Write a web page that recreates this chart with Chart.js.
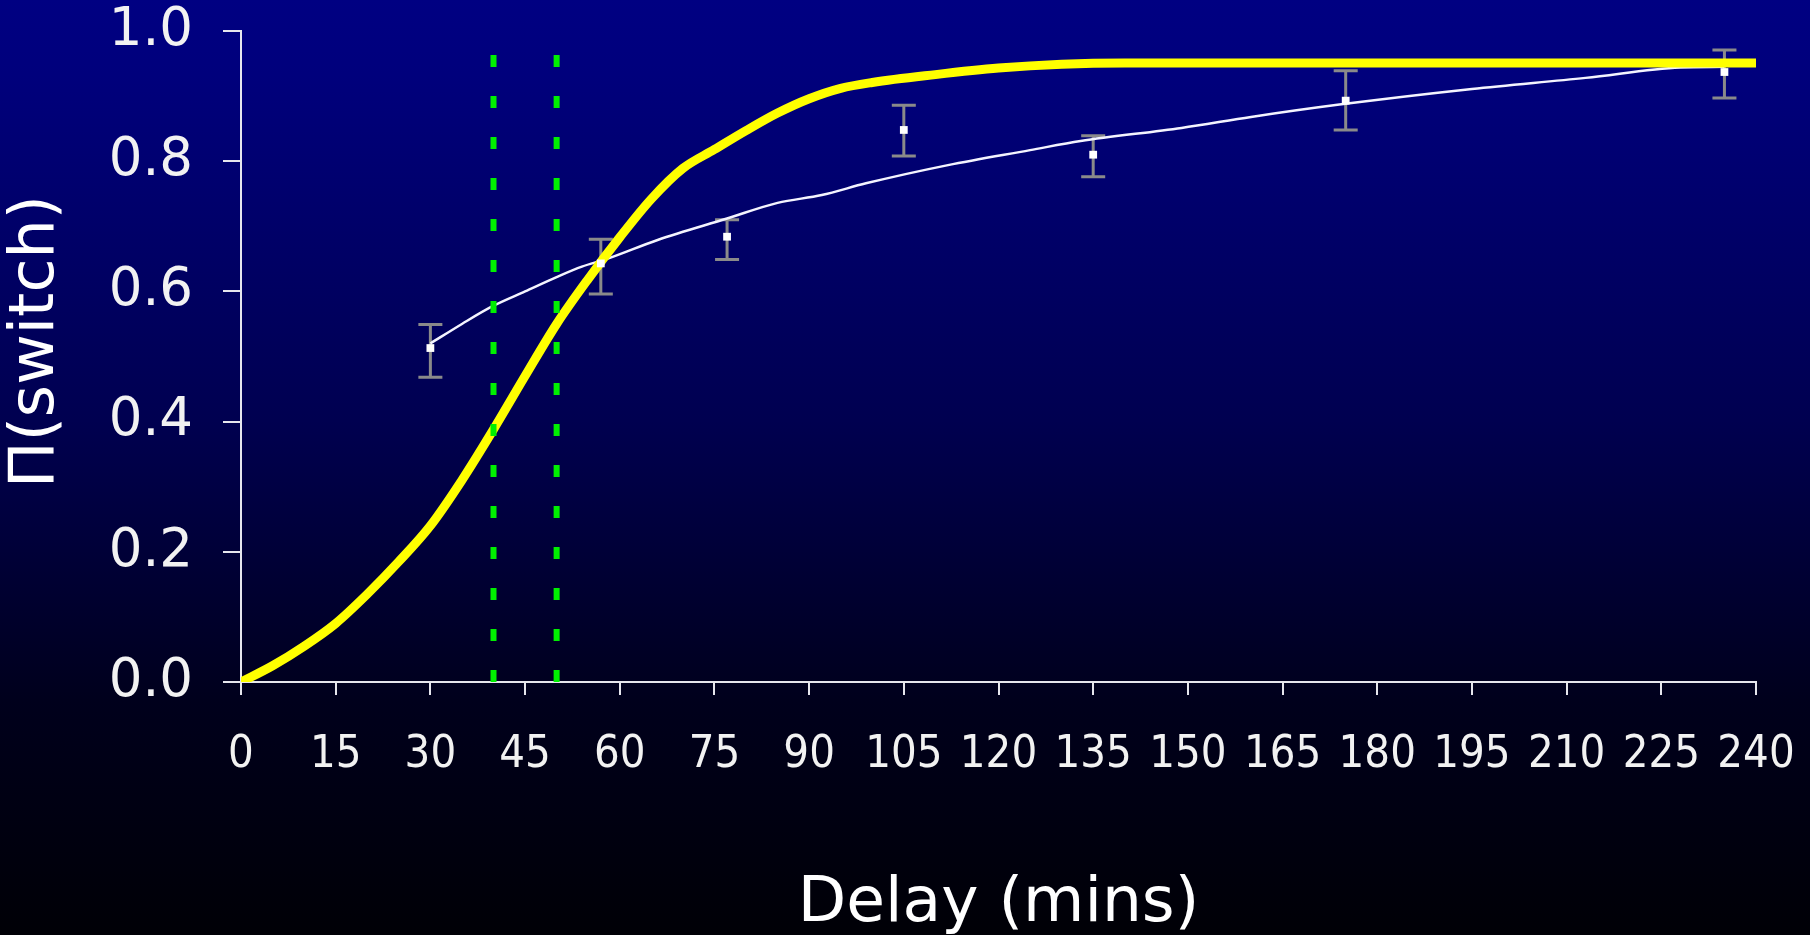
<!DOCTYPE html>
<html>
<head>
<meta charset="utf-8">
<script src="https://cdn.jsdelivr.net/npm/chart.js@4.4.0/dist/chart.umd.min.js"></script>
<style>
  html, body { margin: 0; padding: 0; width: 1810px; height: 935px; overflow: hidden; }
  body { background: linear-gradient(to bottom, #000082 0%, #00007c 8%, #000050 45%, #00001c 75%, #000006 100%); }
  #wrap { position: absolute; left: 0; top: 0; width: 1810px; height: 935px; }
</style>
</head>
<body>
<div id="wrap"><canvas id="c" width="1810" height="935"></canvas></div>
<script>
// ---- Data ----
// Model curve (yellow)
const modelDelay = [0, 5, 10, 15, 20, 25, 30, 35, 40, 45, 50, 55, 60, 65, 70, 75, 80, 85, 90, 95, 100, 110, 120, 130, 140, 240];
const modelProb  = [0, 0.025, 0.055, 0.09, 0.135, 0.185, 0.24, 0.31, 0.388, 0.47, 0.55, 0.619, 0.683, 0.742, 0.789, 0.818, 0.847, 0.874, 0.896, 0.912, 0.921, 0.933, 0.943, 0.949, 0.951, 0.951];

// Fitted curve through the data (white)
const fitDelay = [30, 35, 40, 45, 50, 54, 58, 66, 77, 85, 92, 99, 112, 125, 133, 149, 160, 174, 195, 213, 228, 235];
const fitProb  = [0.52, 0.55, 0.578, 0.6, 0.622, 0.638, 0.65, 0.679, 0.712, 0.736, 0.748, 0.766, 0.794, 0.817, 0.831, 0.851, 0.868, 0.887, 0.911, 0.928, 0.944, 0.945];

// Observed points with error bars
const obsDelay = [30, 57, 77, 105, 135, 175, 235];
const obsProb  = [0.513, 0.643, 0.684, 0.848, 0.81, 0.893, 0.937];
const obsHigh  = [0.549, 0.68, 0.71, 0.886, 0.839, 0.939, 0.971];
const obsLow   = [0.468, 0.596, 0.649, 0.808, 0.776, 0.848, 0.897];

// Vertical green markers
const markerDelays = [40, 50];
const markerTop = 0.97;

// Axis settings
const xMin = 0, xMax = 240, xStep = 15;
const yMin = 0, yMax = 1, yStep = 0.2;
const xTitle = 'Delay (mins)';
const yTitle = 'Π(switch)';

// ---- Build datasets ----
const toXY = (xs, ys) => xs.map((x, i) => ({ x: x, y: ys[i] }));

const datasets = [
  {
    label: 'observed',
    data: toXY(obsDelay, obsProb),
    showLine: false,
    pointStyle: 'rect',
    pointRadius: 5.5,
    pointBackgroundColor: '#ffffff',
    pointBorderColor: '#ffffff',
    pointBorderWidth: 0,
    order: 0
  }
];
markerDelays.forEach((d, i) => {
  datasets.push({
    label: 'marker' + i,
    data: [{ x: d, y: 0 }, { x: d, y: markerTop }],
    borderColor: '#00f000',
    borderWidth: 6,
    borderDash: [12, 29],
    pointRadius: 0,
    fill: false,
    order: 1
  });
});
datasets.push({
  label: 'model',
  data: toXY(modelDelay, modelProb),
  borderColor: '#ffff00',
  borderWidth: 9,
  borderCapStyle: 'round',
  borderJoinStyle: 'round',
  cubicInterpolationMode: 'monotone',
  pointRadius: 0,
  fill: false,
  order: 2
});
datasets.push({
  label: 'fit',
  data: toXY(fitDelay, fitProb),
  borderColor: '#f4f4ff',
  borderWidth: 2.5,
  cubicInterpolationMode: 'monotone',
  pointRadius: 0,
  fill: false,
  order: 3
});

// Error bar plugin (draws from obs arrays via scales)
const errorBars = {
  id: 'errorBars',
  beforeDatasetsDraw(chart) {
    const { ctx, scales: { x, y } } = chart;
    ctx.save();
    ctx.strokeStyle = '#8a8a8a';
    ctx.lineWidth = 3;
    const cap = 12;
    obsDelay.forEach((d, i) => {
      const px = x.getPixelForValue(d);
      const yh = y.getPixelForValue(obsHigh[i]);
      const yl = y.getPixelForValue(obsLow[i]);
      ctx.beginPath();
      ctx.moveTo(px, yh); ctx.lineTo(px, yl);
      ctx.moveTo(px - cap, yh); ctx.lineTo(px + cap, yh);
      ctx.moveTo(px - cap, yl); ctx.lineTo(px + cap, yl);
      ctx.stroke();
    });
    ctx.restore();
  }
};

const AXIS_COLOR = '#e6e6ee';
const Y_TITLE_SHIFT = -15;

new Chart(document.getElementById('c'), {
  type: 'line',
  data: { datasets: datasets },
  plugins: [errorBars],
  options: {
    responsive: false,
    animation: false,
    events: [],
    layout: { padding: { left: 0, right: 54, top: 31, bottom: 0 } },
    plugins: { legend: { display: false }, tooltip: { enabled: false } },
    scales: {
      x: {
        type: 'linear',
        min: xMin, max: xMax,
        afterFit(scale) {
          scale.height = 253;
          scale.paddingLeft = 0; scale.paddingRight = 0;
        },
        ticks: {
          stepSize: xStep,
          color: '#f2f2f2',
          padding: 33,
          maxRotation: 0,
          autoSkip: false,
          font: { family: "'DejaVu Sans Condensed', 'Liberation Sans Narrow', 'DejaVu Sans', sans-serif", size: 45 }
        },
        grid: { drawOnChartArea: false, drawTicks: true, tickLength: 13, color: AXIS_COLOR, lineWidth: 2 },
        border: { display: true, color: AXIS_COLOR, width: 2 },
        title: {
          display: true, text: xTitle, color: '#ffffff',
          font: { family: "'DejaVu Sans', sans-serif", size: 63 },
          padding: { top: 0, bottom: -7 }
        }
      },
      y: {
        type: 'linear',
        min: yMin, max: yMax,
        afterFit(scale) {
          scale.width = 241;
          scale.paddingTop = 0; scale.paddingBottom = 0;
          if (!scale._titleShifted) {
            const orig = scale.drawTitle;
            scale.drawTitle = function () {
              const ctx = this.ctx;
              ctx.save();
              ctx.translate(0, Y_TITLE_SHIFT);
              orig.apply(this, arguments);
              ctx.restore();
            };
            scale._titleShifted = true;
          }
        },
        ticks: {
          stepSize: yStep,
          color: '#f2f2f2',
          padding: 30,
          font: { family: "'DejaVu Sans', sans-serif", size: 53, lineHeight: 1 },
          callback: (v) => Number(v).toFixed(1)
        },
        grid: { drawOnChartArea: false, drawTicks: true, tickLength: 18, color: AXIS_COLOR, lineWidth: 2 },
        border: { display: true, color: AXIS_COLOR, width: 2 },
        title: {
          display: true, text: yTitle, color: '#ffffff',
          font: { family: "'DejaVu Sans', sans-serif", size: 62 },
          padding: { top: 0, bottom: 0 }
        }
      }
    }
  }
});
</script>
</body>
</html>
